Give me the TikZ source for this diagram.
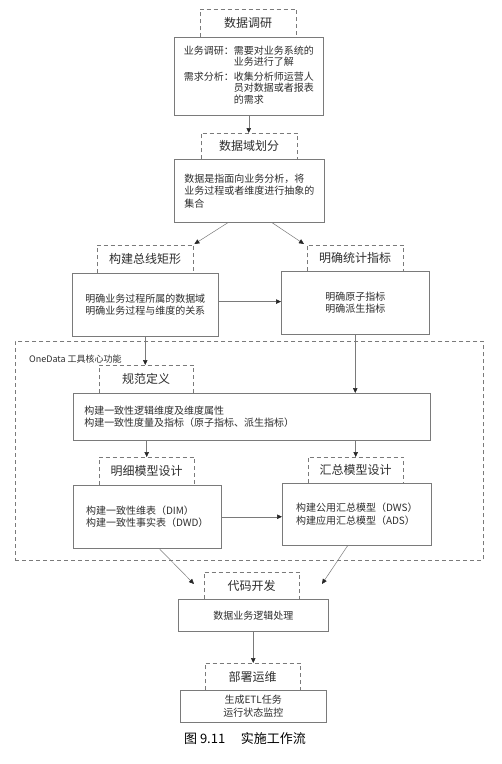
\documentclass[tikz,border=0pt]{standalone}
\usepackage{fontspec}
\setmainfont{Noto Sans CJK SC}
\usetikzlibrary{arrows.meta,calc}
\definecolor{ln}{HTML}{7A7A7A}
\definecolor{tx}{HTML}{2E2E2E}
\begin{document}
\begin{tikzpicture}[x=1pt,y=-1pt,
  hdr/.style={anchor=north west, inner sep=0pt, font=\fontsize{12}{14}\selectfont, text=tx},
  bx/.style={draw=ln, line width=0.5pt, anchor=north west, inner sep=0pt,
    font=\fontsize{10}{12.5}\selectfont, text=tx, align=left},
  dsh/.style={draw=ln, line width=0.5pt, dash pattern=on 4pt off 3pt},
  arr/.style={draw=ln, line width=0.5pt, -{Triangle[length=5pt,width=4.5pt,color=black!85]}}
]
\useasboundingbox (0,0) rectangle (502,764);
\fill[white] (0,0) rectangle (502,764);

% region
\node[dsh, anchor=north west, minimum width=468pt, minimum height=219pt, inner sep=0pt] (region) at (15,341) {};
\node[anchor=west, inner sep=0pt, font=\fontsize{9}{11}\selectfont, text=tx] (rlabel) at (29,359) {OneData 工具核心功能};

% headers
\node[hdr, minimum width=96pt, minimum height=28pt] (h1) at (200,9) {数据调研};
\node[hdr, minimum width=96pt, minimum height=26pt] (h2) at (201,133) {数据域划分};
\node[hdr, minimum width=96pt, minimum height=28pt] (h3) at (97,245) {构建总线矩形};
\node[hdr, minimum width=96pt, minimum height=26pt] (h4) at (307,245) {明确统计指标};
\node[hdr, minimum width=94pt, minimum height=28pt] (h5) at (99,365) {规范定义};
\node[hdr, minimum width=95pt, minimum height=28pt] (h6) at (99,457) {明细模型设计};
\node[hdr, minimum width=95pt, minimum height=26pt] (h7) at (308,457) {汇总模型设计};
\node[hdr, minimum width=95pt, minimum height=27pt] (h8) at (204,572) {代码开发};
\node[hdr, minimum width=95pt, minimum height=27pt] (h9) at (205,663) {部署运维};
\foreach \h in {h1,h2,h3,h4,h5,h6,h7,h8,h9}{
  \draw[dsh] (\h.south west) -- (\h.north west) -- (\h.north east) -- (\h.south east);
}

% boxes
\node[bx, minimum width=149pt, minimum height=78pt] (b1) at (174,37) {%
  \begin{tabular}{@{}l@{}l@{}}
  业务调研：& 需要对业务系统的\\[-1pt]
  & 业务进行了解\\[2pt]
  需求分析：& 收集分析师运营人\\[-1pt]
  & 员对数据或者报表\\[-1pt]
  & 的需求
  \end{tabular}};
\node[bx, minimum width=150pt, minimum height=63pt] (b2) at (174,159) {数据是指面向业务分析，将\\业务过程或者维度进行抽象的\\集合};
\node[bx, minimum width=146pt, minimum height=63pt, align=center] (b3) at (72,273) {明确业务过程所属的数据域\\明确业务过程与维度的关系};
\node[bx, minimum width=148pt, minimum height=63pt, align=center] (b4) at (281,271) {明确原子指标\\明确派生指标};
\node[bx, text width=335pt, inner xsep=11pt, minimum height=47pt] (b5) at (73,393) {构建一致性逻辑维度及维度属性\\构建一致性度量及指标（原子指标、派生指标）};
\node[bx, minimum width=148pt, minimum height=63pt] (b6) at (73,485) {构建一致性维表（DIM）\\构建一致性事实表（DWD）};
\node[bx, minimum width=149pt, minimum height=62pt] (b7) at (282,483) {构建公用汇总模型（DWS）\\构建应用汇总模型（ADS）};
\node[bx, minimum width=150pt, minimum height=32pt, align=center] (b8) at (178,599) {数据业务逻辑处理};
\node[bx, minimum width=146pt, minimum height=32pt, align=center] (b9) at (180,690) {生成ETL任务\\运行状态监控};

% caption
\node[font=\fontsize{13}{15}\selectfont, text=black] (cap) at (245,739) {图 9.11\hspace{1.2em}实施工作流};

% connectors
\coordinate (e1) at (194,584);
\coordinate (e2) at (322,584);
\coordinate (p3) at ($(b3.north east)!0.45!(b3.south east)$);
\coordinate (s2a) at ($(b2.south west)!0.36!(b2.south east)$);
\coordinate (s2b) at ($(b2.south west)!0.65!(b2.south east)$);
\coordinate (t3) at ($(h3.north east)+(1,-1)$);
\coordinate (t4) at ($(h4.north west)+(-3,-1)$);
\coordinate (s6) at ($(b6.south west)!0.58!(b6.south east)$);
\coordinate (s7) at ($(b7.south west)!0.44!(b7.south east)$);
\draw[arr] (b1.south) -- (b1.south |- h2.north);
\draw[arr] (s2a) -- (t3);
\draw[arr] (s2b) -- (t4);
\draw[arr] (p3) -- (p3 -| b4.west);
\draw[arr] (b3.south) -- (b3.south |- h5.north);
\draw[arr] (b4.south) -- (b4.south |- b5.north);
\draw[arr] (h6.north |- b5.south) -- (h6.north);
\draw[arr] (h7.north |- b5.south) -- (h7.north);
\draw[arr] (b6.east) -- (b6.east -| b7.west);
\draw[arr] (s6) -- (e1);
\draw[arr] (s7) -- (e2);
\draw[arr] (b8.south) -- (b8.south |- h9.north);
\end{tikzpicture}
\end{document}
